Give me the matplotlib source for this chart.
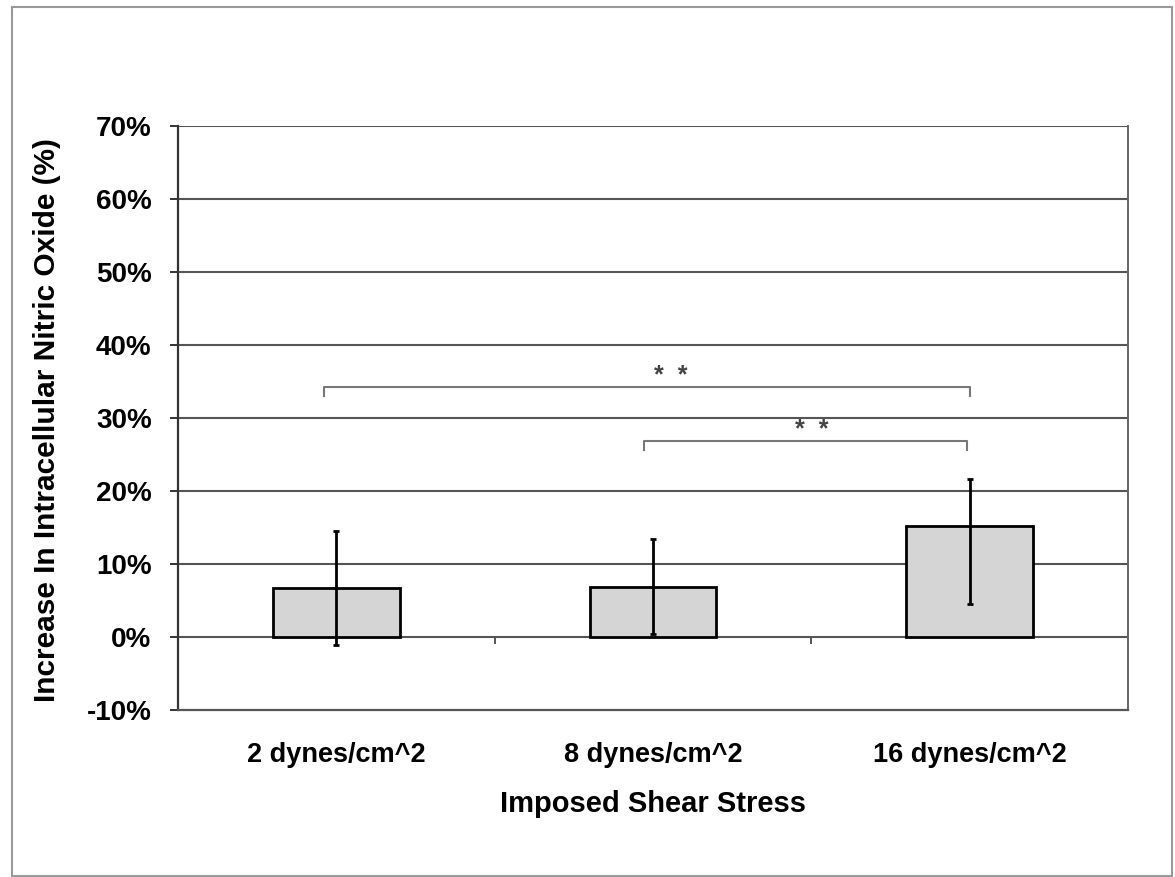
import matplotlib
matplotlib.use("Agg")
import matplotlib.pyplot as plt
from matplotlib.patches import Rectangle
from matplotlib.ticker import FuncFormatter, FixedLocator

plt.rcParams['font.family'] = ['Liberation Sans', 'DejaVu Sans']

categories = ["2 dynes/cm^2", "8 dynes/cm^2", "16 dynes/cm^2"]
means = [6.7, 6.9, 15.2]
err_low = [7.8, 6.5, 10.7]
err_high = [7.8, 6.5, 6.4]
yticks = [-10, 0, 10, 20, 30, 40, 50, 60, 70]

# significance brackets: (left x, right x, height), star label
brackets = [(-0.04, 2.0, 34.2), (0.97, 1.99, 26.8)]
bracket_labels = ["*  *", "*  *"]
bracket_label_x = [1.055, 1.5]

fig = plt.figure(figsize=(11.75, 8.77), dpi=100)
ax = fig.add_axes([178/1175, 1-710/877, 950/1175, 584/877])

xs = list(range(len(categories)))
ax.set_xlim(-0.5, len(categories) - 0.5)
ax.set_ylim(yticks[0], yticks[-1])

for y in yticks[1:]:
    ax.axhline(y, color='#555555', lw=1.5, zorder=1)

ax.bar(xs, means, width=0.4, color='#d5d5d5', edgecolor='black', linewidth=2, zorder=3)
ax.errorbar(xs, means, yerr=[err_low, err_high], fmt='none', ecolor='black',
            elinewidth=2, capsize=2.5, capthick=2, zorder=4)

# category boundary tick marks on the zero line
for b in [x + 0.5 for x in xs[:-1]]:
    ax.plot([b, b], [0, -0.8], color='#555555', lw=1.4, zorder=2)

for (x0, x1, h), lab, lx in zip(brackets, bracket_labels, bracket_label_x):
    ax.plot([x0, x0, x1, x1], [h - 1.2, h, h, h - 1.2], color='#777777', lw=1.5, zorder=2)
    ax.text(lx, h + 0.6, lab, ha='center', va='baseline', fontsize=18,
            fontweight='bold', color='#444444')

ax.yaxis.set_major_locator(FixedLocator(yticks))
ax.yaxis.set_major_formatter(FuncFormatter(lambda v, p: f"{v:.0f}%"))
ax.set_xticks(xs)
ax.set_xticklabels(categories)
ax.tick_params(axis='x', length=0, pad=23, labelsize=19.5)
ax.tick_params(axis='y', length=6, width=1.4, pad=13, labelsize=20, color='#333333')
for lab in ax.get_xticklabels() + ax.get_yticklabels():
    lab.set_fontweight('bold')

ax.spines['left'].set_color('#333333')
ax.spines['left'].set_linewidth(1.6)
ax.spines['bottom'].set_color('#555555')
ax.spines['bottom'].set_linewidth(1.6)
ax.spines['right'].set_color('#666666')
ax.spines['right'].set_linewidth(1.4)
ax.spines['top'].set_visible(False)

ax.set_xlabel("Imposed Shear Stress", fontsize=21, fontweight='bold')
ax.xaxis.set_label_coords(0.5, -0.161)
ax.xaxis.label.set_va('center')
ax.set_ylabel("Increase In Intracellular Nitric Oxide (%)", fontsize=21.5, fontweight='bold')
ax.yaxis.set_label_coords(-0.138, 0.497)
ax.yaxis.label.set_va('center')

fig.patches.append(Rectangle((12/1175, 1-876/877), 1160/1175, 869/877,
                             transform=fig.transFigure, fill=False,
                             edgecolor='#999999', lw=1.5))

fig.savefig("out.png", dpi=100)
